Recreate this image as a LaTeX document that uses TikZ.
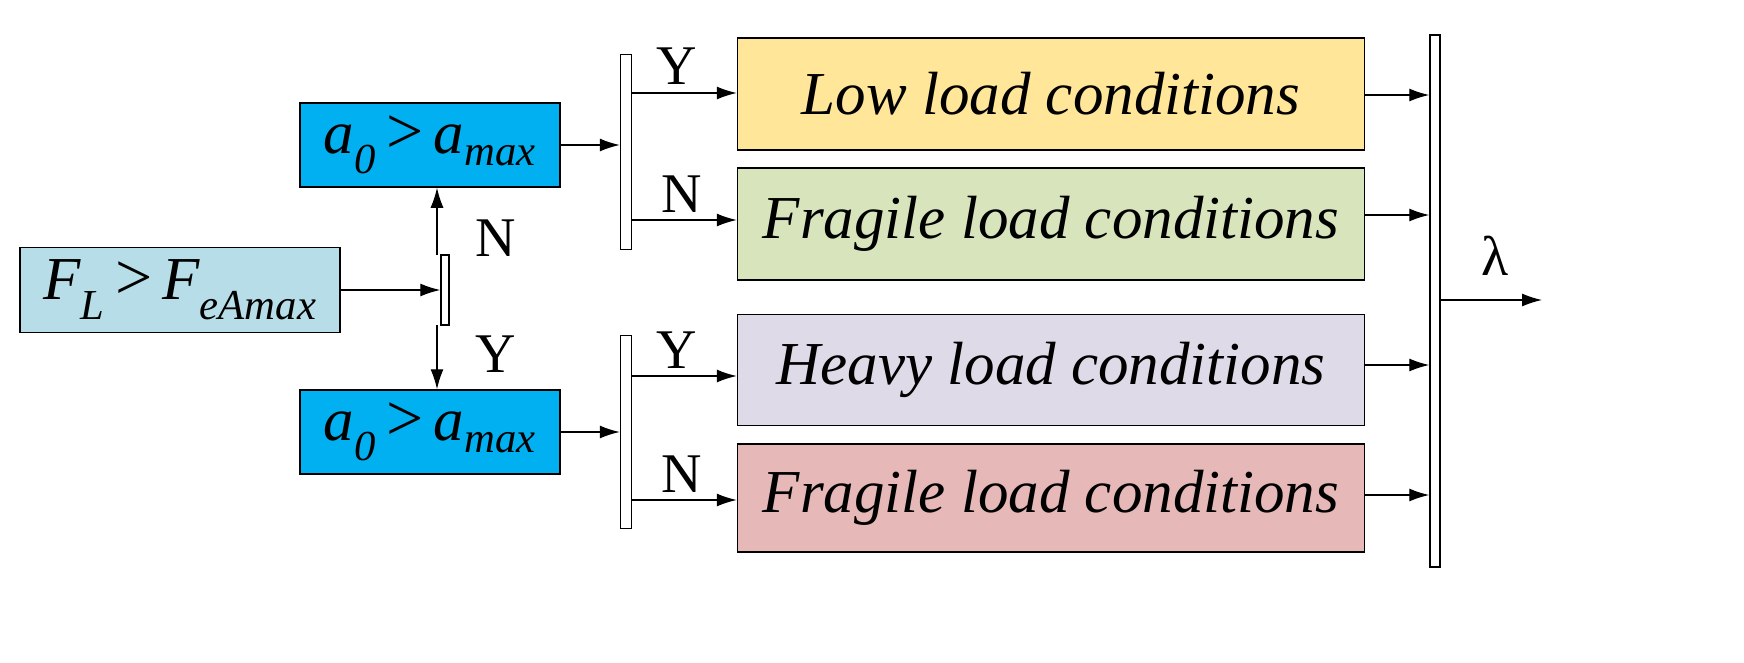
\documentclass[tikz,border=0pt]{standalone}
\usepackage{fontspec}
\setmainfont{Liberation Serif}
\usetikzlibrary{arrows.meta}
\definecolor{cfl}{RGB}{183,222,232}
\definecolor{ca}{RGB}{0,176,240}
\definecolor{cy}{RGB}{255,230,153}
\definecolor{cg}{RGB}{216,228,188}
\definecolor{cp}{RGB}{222,218,232}
\definecolor{cr}{RGB}{230,184,183}
\newcommand{\gtr}{\,{\fontsize{66}{70}\selectfont\upshape >}\,}
\begin{document}
\begin{tikzpicture}[x=1pt,y=-1pt,
 box/.style={draw,line width=1.5pt,inner sep=0},
 bar/.style={draw,fill=white,line width=1.5pt,inner sep=0},
 arr/.style={line width=1.3pt,-{Latex[length=20pt,width=13pt]}},
 big/.style={font=\fontsize{61}{70}\selectfont\itshape},
 lab/.style={font=\fontsize{56}{60}\selectfont}]
\useasboundingbox (0,0) rectangle (1744,663);
\node[box,fill=cfl,minimum width=320,minimum height=85] (fl) at (180,290) {};
\node[big] at (fl) {F\textsubscript{L}\gtr F\textsubscript{eAmax}};
\node[bar,minimum width=8,minimum height=70] (s) at (445,290) {};
\node[box,fill=ca,minimum width=260,minimum height=84] (a1) at (430,145) {};
\node[big] at (a1) {a\textsubscript{0}\gtr a\textsubscript{max}};
\node[box,fill=ca,minimum width=260,minimum height=84] (a2) at (430,432) {};
\node[big] at (a2) {a\textsubscript{0}\gtr a\textsubscript{max}};
\node[bar,minimum width=11,minimum height=195] (b1) at (626,152) {};
\node[bar,minimum width=11,minimum height=193] (b2) at (626,432) {};
\node[bar,minimum width=10,minimum height=532] (b3) at (1435,301) {};
\node[box,fill=cy,minimum width=627,minimum height=112] (c1) at (1051,94) {};
\node[big] at (c1) {Low load conditions};
\node[box,fill=cg,minimum width=627,minimum height=112] (c2) at (1051,224) {};
\node[big] at (c2) {Fragile load conditions};
\node[box,fill=cp,minimum width=627,minimum height=111] (c3) at (1051,370) {};
\node[big] at (c3) {Heavy load conditions};
\node[box,fill=cr,minimum width=627,minimum height=108] (c4) at (1051,498) {};
\node[big] at (c4) {Fragile load conditions};
\draw[arr] (fl.east) -- (s.west);
\draw[arr] (437,255) -- (a1.south -| 437,0);
\draw[arr] (437,325) -- (a2.north -| 437,0);
\node[lab] at (496,238) {N};
\node[lab] at (496,354) {Y};
\draw[arr] (a1.east) -- (b1.west |- a1.east);
\draw[arr] (a2.east) -- (b2.west |- a2.east);
\draw[arr] (b1.east |- 0,93) -- (c1.west |- 0,93);
\draw[arr] (b1.east |- 0,220) -- (c2.west |- 0,220);
\draw[arr] (b2.east |- 0,376) -- (c3.west |- 0,376);
\draw[arr] (b2.east |- 0,500) -- (c4.west |- 0,500);
\node[lab] at (677,66) {Y};
\node[lab] at (682,194) {N};
\node[lab] at (677,350) {Y};
\node[lab] at (682,474) {N};
\foreach \c/\yy in {c1/95,c2/215,c3/365,c4/495}
  \draw[arr] (\c.east |- 0,\yy) -- (b3.west |- 0,\yy);
\draw[arr] (b3.east |- 0,300) -- (1542,300);
\node[lab] at (1495,256) {λ};
\end{tikzpicture}
\end{document}
